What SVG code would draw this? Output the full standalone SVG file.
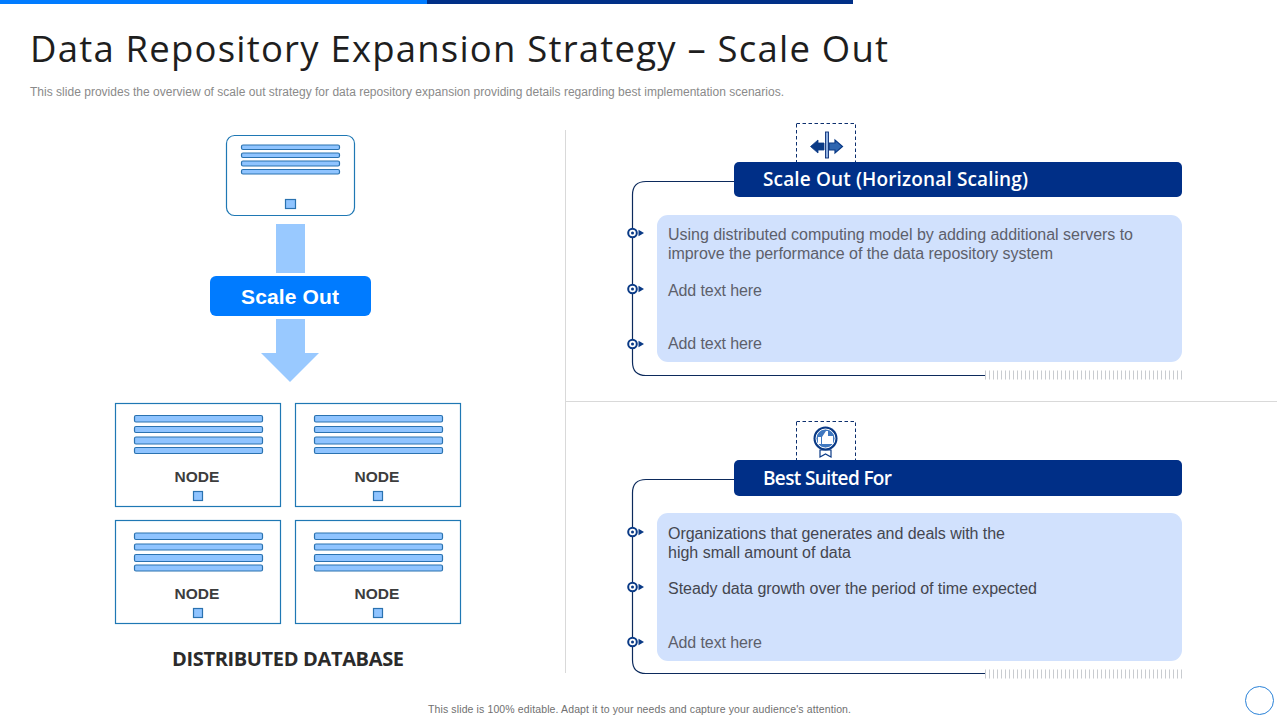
<svg xmlns="http://www.w3.org/2000/svg" width="1280" height="720" viewBox="0 0 1280 720">
<style>
text{font-family:"Liberation Sans",Arial,sans-serif}
.bar{fill:#8fc4ff;stroke:#2a72b0;stroke-width:1.2}
.sq{fill:#8fc4ff;stroke:#2a72b0;stroke-width:1.2}
.box{fill:#fff;stroke:#1f78b4;stroke-width:1.2}
.nl{font-size:15.5px;font-weight:700;fill:#3d3d3d;text-anchor:middle}
.hd{font-family:"Open Sans","Liberation Sans",sans-serif;font-size:19px;font-weight:600;fill:#fff}
.bd{font-size:16px;fill:#5d5f6b}
.bk{font-size:16px;fill:#44464f}
.rail{fill:none;stroke:#0c2a5c;stroke-width:1.2}
.dash{fill:#fff;stroke:#0c2f6e;stroke-width:1;stroke-dasharray:3.5 2.5}
.sep{stroke:#d9d9d9;stroke-width:1}
.ticks{stroke:#c9ccd0;stroke-width:9;stroke-dasharray:1 3}
.blt{fill:#fff;stroke:#0a3a86;stroke-width:2}
.tri{fill:#0a3a86}
</style>
<defs>
<g id="bars">
<rect class="bar" x="0.500" y="0" width="128" height="6.500" rx="1.500"/>
<rect class="bar" x="0.500" y="11" width="128" height="6" rx="1.500"/>
<rect class="bar" x="0.500" y="21.500" width="128" height="7" rx="1.500"/>
<rect class="bar" x="0.500" y="32" width="128" height="6" rx="1.500"/>
</g>
<g id="bullet">
<circle class="blt" cx="0" cy="0" r="4.300"/>
<circle cx="0" cy="0" r="1.500" fill="#0a3a86"/>
<path class="tri" d="M6 -3.200L11.500 0L6 3.200Z"/>
</g>
</defs>
<rect x="0" y="0" width="427" height="4" fill="#007bff"/>
<rect x="427" y="0" width="426" height="4" fill="#002f87"/>
<text x="30" y="62" style="font-family:'Open Sans','Liberation Sans',sans-serif" font-size="36.500" fill="#1e1e1e" textLength="858">Data Repository Expansion Strategy – Scale Out</text>
<text x="30" y="96" font-size="12" fill="#8a8a8a" textLength="754">This slide provides the overview of scale out strategy for data repository expansion providing details regarding best implementation scenarios.</text>
<line class="sep" x1="565.500" y1="130" x2="565.500" y2="673"/>
<line class="sep" x1="566" y1="401.500" x2="1277" y2="401.500"/>

<g id="server">
<rect x="226.500" y="135.500" width="128" height="80" rx="8" fill="#fff" stroke="#1f78b4" stroke-width="1.200"/>
<rect class="bar" x="241.500" y="145" width="98" height="4.500" rx="1.500"/>
<rect class="bar" x="241.500" y="153" width="98" height="4.500" rx="1.500"/>
<rect class="bar" x="241.500" y="161" width="98" height="5" rx="1.500"/>
<rect class="bar" x="241.500" y="169.500" width="98" height="4.500" rx="1.500"/>
<rect class="sq" x="285.500" y="199.500" width="10" height="9"/>
</g>
<g id="scale-out">
<rect x="210" y="276" width="161" height="40" rx="6" fill="#007bff"/>
<text x="290" y="304" font-size="21" font-weight="700" fill="#fff" text-anchor="middle" textLength="98">Scale Out</text>
</g>
<g id="node1"><rect class="box" x="115.500" y="403.500" width="165" height="103"/><use href="#bars" x="134" y="415.500"/><text class="nl" x="197" y="482">NODE</text><rect class="sq" x="193.500" y="491.500" width="9" height="9"/></g>
<g id="node2"><rect class="box" x="295.500" y="403.500" width="165" height="103"/><use href="#bars" x="314" y="415.500"/><text class="nl" x="377" y="482">NODE</text><rect class="sq" x="373.500" y="491.500" width="9" height="9"/></g>
<g id="node3"><rect class="box" x="115.500" y="520.500" width="165" height="103"/><use href="#bars" x="134" y="533"/><text class="nl" x="197" y="599">NODE</text><rect class="sq" x="193.500" y="608.500" width="9" height="9"/></g>
<g id="node4"><rect class="box" x="295.500" y="520.500" width="165" height="103"/><use href="#bars" x="314" y="533"/><text class="nl" x="377" y="599">NODE</text><rect class="sq" x="373.500" y="608.500" width="9" height="9"/></g>
<text x="172" y="666" style="font-family:'Open Sans','Liberation Sans',sans-serif" font-size="20" font-weight="700" fill="#2b2b2b" textLength="232">DISTRIBUTED DATABASE</text>

<g id="connectors">
<rect x="276" y="224" width="29" height="49" fill="#99c9ff"/>
<path d="M276 319H305V353H319L290 382L261 353H276Z" fill="#99c9ff"/>
<path class="rail" d="M735 181.500H646Q632.500 181.500 632.500 195V362Q632.500 375.500 646 375.500H985"/>
<line class="ticks" x1="985" y1="375" x2="1182" y2="375"/>
<path class="rail" d="M735 479.500H646Q632.500 479.500 632.500 493V660Q632.500 673.500 646 673.500H985"/>
<line class="ticks" x1="985" y1="674" x2="1182" y2="674"/>
</g>

<g id="icon-scale">
<rect class="dash" x="796.500" y="123.500" width="59" height="45"/>
<path d="M824 143H818V140L810.500 146.500L818 153V150H824Z" fill="#0a3a86" stroke="#0a3a86" stroke-width="0.800"/>
<path d="M829 143H835V140L842.500 146.500L835 153V150H829Z" fill="#2f66b0" stroke="#0a3a86" stroke-width="1.200"/>
<rect x="825.500" y="132" width="3" height="26" fill="#8fb0e0" stroke="#0a2f78" stroke-width="0.900"/>
</g>
<g id="panel-scale">
<rect x="734" y="162" width="448" height="35" rx="5" fill="#002f87"/>
<text class="hd" x="763" y="186" textLength="265">Scale Out (Horizonal Scaling)</text>
<rect x="657" y="215" width="525" height="147" rx="11" fill="#d1e1fd"/>
<text class="bd" x="668" y="240" textLength="465">Using distributed computing model by adding additional servers to</text>
<text class="bd" x="668" y="259" textLength="385">improve the performance of the data repository system</text>
<text class="bd" x="668" y="296" textLength="94">Add text here</text>
<text class="bd" x="668" y="349" textLength="94">Add text here</text>
<use href="#bullet" x="632.500" y="233"/><use href="#bullet" x="632.500" y="289"/><use href="#bullet" x="632.500" y="344"/>
</g>
<g id="icon-best">
<rect class="dash" x="796.500" y="421.500" width="59" height="45"/>
<path d="M820 450V457L825.500 454L831 457V450Z" fill="#fff" stroke="#0a3a86" stroke-width="1.200"/>
<circle cx="825.500" cy="438.500" r="12" fill="#0a3a86"/>
<circle cx="825.500" cy="438.500" r="9.500" fill="#3f78c0" stroke="#fff" stroke-width="1"/>
<path d="M818 437H821V444H818ZM822 437L826 431H828V436H833V444H822Z" fill="#fff"/>
</g>
<g id="panel-best">
<rect x="734" y="460" width="448" height="36" rx="5" fill="#002f87"/>
<text class="hd" x="763" y="485" textLength="129">Best Suited For</text>
<rect x="657" y="513" width="525" height="148" rx="11" fill="#d1e1fd"/>
<text class="bk" x="668" y="539" textLength="337">Organizations that generates and deals with the</text>
<text class="bk" x="668" y="558" textLength="183">high small amount of data</text>
<text class="bk" x="668" y="594" textLength="369">Steady data growth over the period of time expected</text>
<text class="bd" x="668" y="648" textLength="94">Add text here</text>
<use href="#bullet" x="632.500" y="532"/><use href="#bullet" x="632.500" y="587"/><use href="#bullet" x="632.500" y="642"/>
</g>
<text x="428" y="713" font-size="10.500" fill="#707070" textLength="423">This slide is 100% editable.  Adapt it to your needs and capture your audience's attention.</text>
<circle cx="1259.500" cy="700.500" r="14" fill="#fff" stroke="#2a82d8" stroke-width="1"/>
</svg>
